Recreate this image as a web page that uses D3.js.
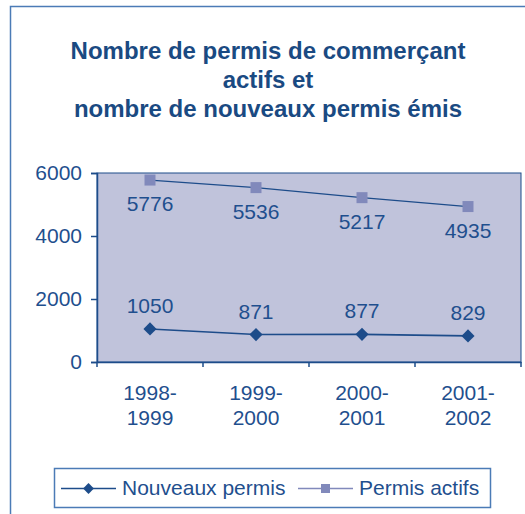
<!DOCTYPE html>
<html>
<head>
<meta charset="utf-8">
<script src="https://cdn.jsdelivr.net/npm/d3@7"></script>
<style>
  body { margin: 0; background: #fff; }
  svg { display: block; font-family: 'Liberation Sans', Arial, sans-serif; }
</style>
</head>
<body>
<svg id="chart"></svg>
<script>
var periods = ['1998-1999', '1999-2000', '2000-2001', '2001-2002']
var nouveaux = [1050, 871, 877, 829]
var actifs = [5776, 5536, 5217, 4935]
var yTicks = [0, 2000, 4000, 6000]
var titleLines = ['Nombre de permis de commerçant', 'actifs et', 'nombre de nouveaux permis émis']

var w = 525
var h = 514
var blue = '#1d4c8a'
var textBlue = '#1f4f8e'
var frameBlue = '#4b7bb6'
var lavender = '#8189bb'

var svg = d3.select('#chart').attr('width', w).attr('height', h)

// outer frame (only top and left are visible)
svg.append('path')
    .attr('d', 'M10.5,' + h + 'V6.5H' + w)
    .attr('fill', 'none')
    .attr('stroke', frameBlue)
    .attr('stroke-width', 1.5)

svg.append('g').selectAll('text')
    .data(titleLines)
  .enter().append('text')
    .attr('x', 268)
    .attr('y', (d, i) => 59 + i * 29)
    .attr('text-anchor', 'middle')
    .attr('font-size', 24)
    .attr('font-weight', 'bold')
    .attr('fill', '#1a4a82')
    .text(d => d)

var plotL = 97, plotR = 521, plotT = 173, plotB = 362

var x = d3.scaleBand().domain(periods).range([plotL, plotR])
var y = d3.scaleLinear().domain([0, 6000]).range([plotB, plotT])

svg.append('rect')
    .attr('x', plotL)
    .attr('y', plotT)
    .attr('width', plotR - plotL)
    .attr('height', plotB - plotT)
    .attr('fill', '#c0c3db')
    .attr('stroke', blue)
    .attr('stroke-width', 1)

// y axis
var yAxis = svg.append('g')
    .attr('transform', `translate(${plotL},0)`)
    .call(d3.axisLeft(y).tickValues(yTicks).tickSize(6).tickPadding(9).tickFormat(d3.format('d')))
yAxis.select('.domain').attr('stroke', blue).attr('stroke-width', 1.5)
yAxis.selectAll('.tick line').attr('stroke', blue).attr('stroke-width', 1.5)
yAxis.selectAll('text')
    .attr('font-size', 21)
    .attr('font-family', null)
    .attr('fill', textBlue)

// x axis, labels on band centres, ticks on band edges
var xAxis = svg.append('g')
    .attr('transform', `translate(0,${plotB})`)
    .call(d3.axisBottom(x).tickSize(0).tickPadding(0))
xAxis.select('.domain').attr('stroke', blue).attr('stroke-width', 1.5)
xAxis.selectAll('.tick text')
    .attr('font-size', 21)
    .attr('font-family', null)
    .attr('fill', textBlue)
    .attr('dy', null)
    .text(null)
    .each(function (d) {
      var parts = d.split('-')
      var t = d3.select(this)
      t.append('tspan').attr('x', 0).attr('y', 38).text(parts[0] + '-')
      t.append('tspan').attr('x', 0).attr('y', 63).text(parts[1])
    })

var edges = periods.map(d => x(d)).concat([plotR])
xAxis.selectAll('.edge')
    .data(edges)
  .enter().append('line')
    .attr('x1', d => d)
    .attr('x2', d => d)
    .attr('y1', 0)
    .attr('y2', 5)
    .attr('stroke', blue)
    .attr('stroke-width', 1.5)

var cx = d => x(d) + x.bandwidth() / 2

var line = d3.line()
    .x((d, i) => cx(periods[i]))
    .y(d => y(d))

// permis actifs
svg.append('path')
    .datum(actifs)
    .attr('d', line)
    .attr('fill', 'none')
    .attr('stroke', blue)
    .attr('stroke-width', 1.2)

svg.selectAll('.sq')
    .data(actifs)
  .enter().append('rect')
    .attr('x', (d, i) => cx(periods[i]) - 5.5)
    .attr('y', d => y(d) - 5.5)
    .attr('width', 11)
    .attr('height', 11)
    .attr('fill', lavender)

svg.selectAll('.lblA')
    .data(actifs)
  .enter().append('text')
    .attr('x', (d, i) => cx(periods[i]))
    .attr('y', d => y(d) + 31)
    .attr('text-anchor', 'middle')
    .attr('font-size', 21)
    .attr('fill', textBlue)
    .text(d => d)

// nouveaux permis
svg.append('path')
    .datum(nouveaux)
    .attr('d', line)
    .attr('fill', 'none')
    .attr('stroke', blue)
    .attr('stroke-width', 1.6)

var diamond = d3.symbol().type(d3.symbolDiamond2).size(110)

svg.selectAll('.dm')
    .data(nouveaux)
  .enter().append('path')
    .attr('d', diamond)
    .attr('transform', (d, i) => `translate(${cx(periods[i])},${y(d)})`)
    .attr('fill', blue)

svg.selectAll('.lblN')
    .data(nouveaux)
  .enter().append('text')
    .attr('x', (d, i) => cx(periods[i]))
    .attr('y', d => y(d) - 16)
    .attr('text-anchor', 'middle')
    .attr('font-size', 21)
    .attr('fill', textBlue)
    .text(d => d)

// legend
var legend = svg.append('g')
legend.append('rect')
    .attr('x', 54.5)
    .attr('y', 468.5)
    .attr('width', 436)
    .attr('height', 39)
    .attr('fill', '#fff')
    .attr('stroke', frameBlue)
    .attr('stroke-width', 1.5)

var items = [
  {name: 'Nouveaux permis', x0: 61, x1: 116, tx: 122, color: blue, mark: 'diamond'},
  {name: 'Permis actifs', x0: 298, x1: 353, tx: 359, color: lavender, mark: 'square'}
]
var ly = 488.5
items.forEach(function (it) {
  legend.append('line')
      .attr('x1', it.x0).attr('x2', it.x1)
      .attr('y1', ly).attr('y2', ly)
      .attr('stroke', it.color)
      .attr('stroke-width', 1.3)
  var mx = (it.x0 + it.x1) / 2
  if (it.mark === 'diamond') {
    legend.append('path')
        .attr('d', d3.symbol().type(d3.symbolDiamond2).size(75))
        .attr('transform', `translate(${mx},${ly})`)
        .attr('fill', it.color)
  } else {
    legend.append('rect')
        .attr('x', mx - 4.5).attr('y', ly - 4.5)
        .attr('width', 9).attr('height', 9)
        .attr('fill', it.color)
  }
  legend.append('text')
      .attr('x', it.tx)
      .attr('y', 495)
      .attr('font-size', 21)
      .attr('fill', textBlue)
      .text(it.name)
})
</script>
</body>
</html>
